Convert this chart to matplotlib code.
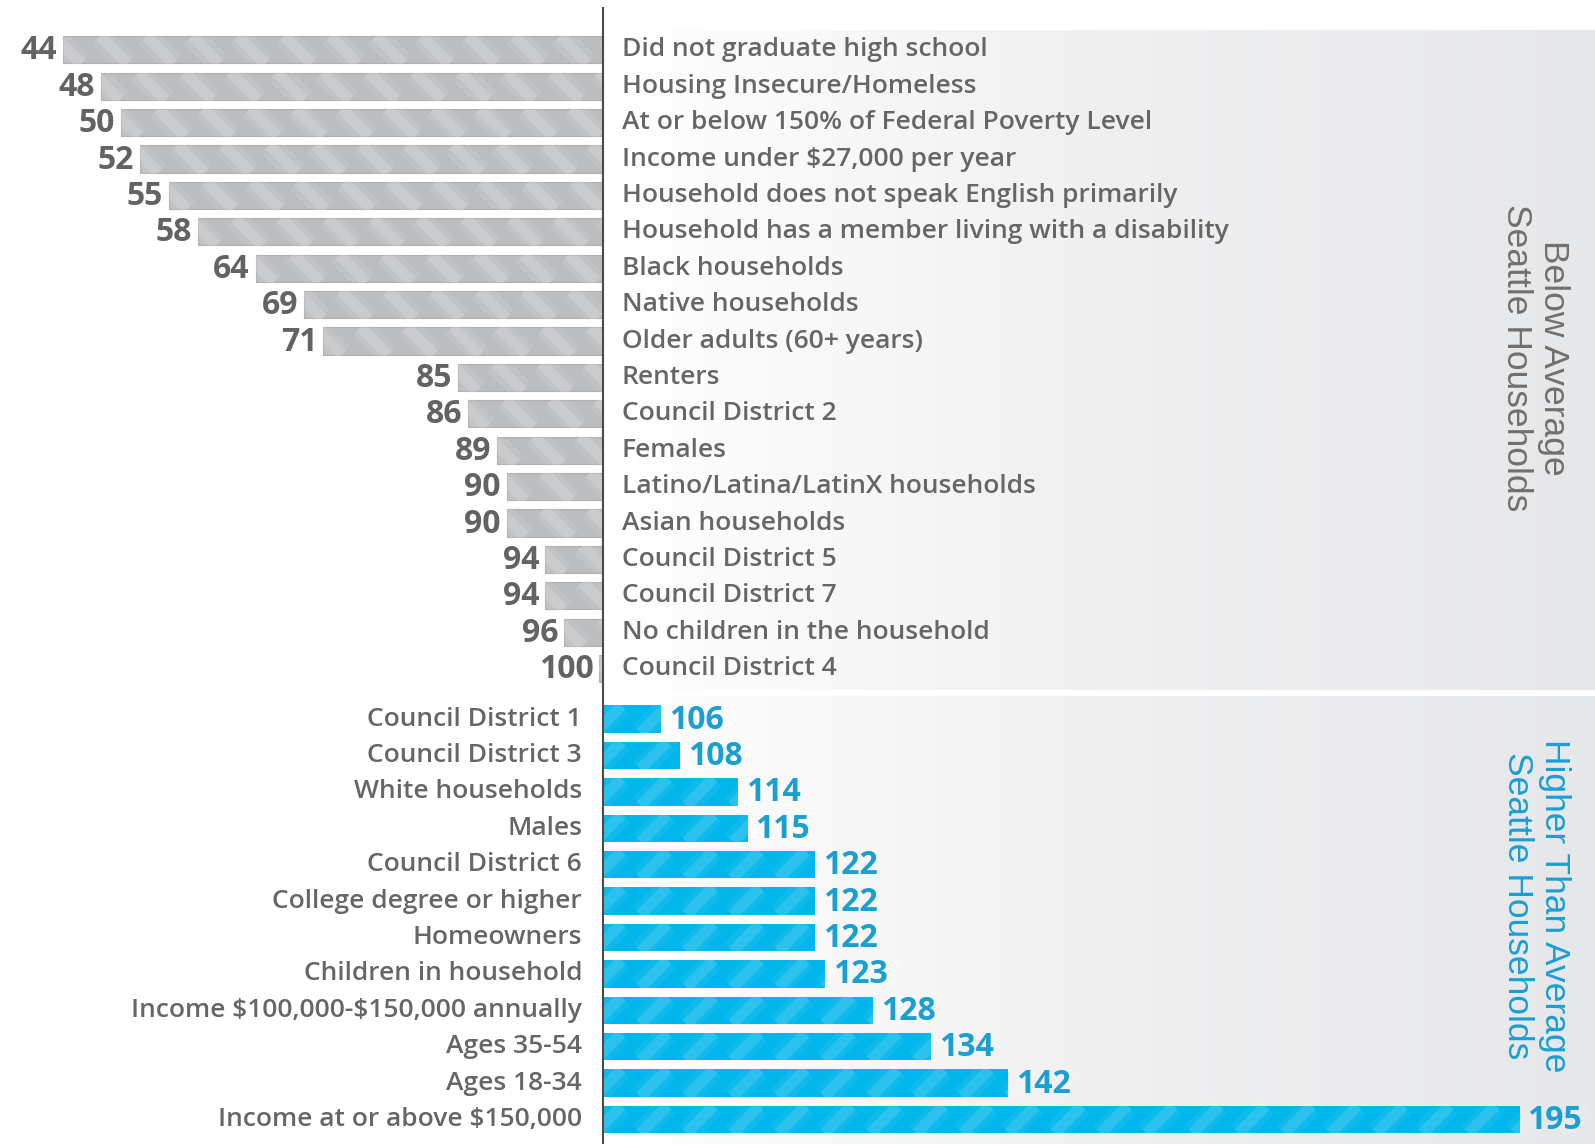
import matplotlib
matplotlib.use("Agg")
import matplotlib.pyplot as plt
import numpy as np
from matplotlib.collections import LineCollection
from matplotlib.colors import LinearSegmentedColormap

plt.rcParams["font.family"] = ["Open Sans", "DejaVu Sans"]

below_labels = [
    "Did not graduate high school",
    "Housing Insecure/Homeless",
    "At or below 150% of Federal Poverty Level",
    "Income under \\$27,000 per year",
    "Household does not speak English primarily",
    "Household has a member living with a disability",
    "Black households",
    "Native households",
    "Older adults (60+ years)",
    "Renters",
    "Council District 2",
    "Females",
    "Latino/Latina/LatinX households",
    "Asian households",
    "Council District 5",
    "Council District 7",
    "No children in the household",
    "Council District 4",
]
below_values = [44, 48, 50, 52, 55, 58, 64, 69, 71, 85, 86, 89, 90, 90, 94, 94, 96, 100]

above_labels = [
    "Council District 1",
    "Council District 3",
    "White households",
    "Males",
    "Council District 6",
    "College degree or higher",
    "Homeowners",
    "Children in household",
    "Income \\$100,000-\\$150,000 annually",
    "Ages 35-54",
    "Ages 18-34",
    "Income at or above \\$150,000",
]
above_values = [106, 108, 114, 115, 122, 122, 122, 123, 128, 134, 142, 195]

BASE = 100
GRAY_BAR = "#bcbdbf"
GRAY_TXT = "#636363"
LABEL_TXT = "#666666"
BLUE_BAR = "#00b6ea"
BLUE_TXT = "#1a9fd2"

W, H = 1595, 1144
fig = plt.figure(figsize=(W / 100, H / 100), dpi=100)
ax = fig.add_axes([0, 0, 1, 1])

# pixel <-> data helpers (x: value units, y: row units)
PX_PER_UNIT = 9.65
X0_PX = 603
ROW0_PX, ROW_PX = 49.8, 36.4
xmin = BASE - X0_PX / PX_PER_UNIT
xmax = BASE + (W - X0_PX) / PX_PER_UNIT
ax.set_xlim(xmin, xmax)
ax.set_ylim((H - ROW0_PX) / ROW_PX, (0 - ROW0_PX) / ROW_PX)
ax.axis("off")


def row(px):
    return (px - ROW0_PX) / ROW_PX


def xval(px):
    return BASE + (px - X0_PX) / PX_PER_UNIT


# background panels with a soft left-to-right gradient
cmap = LinearSegmentedColormap.from_list("panel", ["#ffffff", "#f0f0f1", "#e6e7e9"])
grad = np.linspace(0, 1, 256).reshape(1, -1)
ax.imshow(grad, cmap=cmap, aspect="auto", extent=(BASE, xmax, row(690), row(30)), zorder=0)
ax.imshow(grad, cmap=cmap, aspect="auto", extent=(BASE, xmax, row(H), row(696)), zorder=0)

gap = 50.5 / ROW_PX - 1
y_below = np.arange(len(below_values))
y_above = len(below_values) + gap + np.arange(len(above_values))
bar_h = 0.75


def add_stripes(patch, x0, x1, yc, direction, alpha):
    hp = bar_h * ROW_PX
    dx = hp / PX_PER_UNIT
    period = 46 / PX_PER_UNIT
    segs = []
    for s in np.arange(x0 - 2 * dx, x1 + 2 * dx, period):
        if direction == "/":
            segs.append([(s, yc + bar_h / 2), (s + dx, yc - bar_h / 2)])
        else:
            segs.append([(s + dx, yc + bar_h / 2), (s, yc - bar_h / 2)])
    for lw, a in [(16, alpha * 0.5), (8, alpha)]:
        lc = LineCollection(segs, colors="white", linewidths=lw, alpha=a, zorder=3)
        lc.set_clip_path(patch)
        ax.add_collection(lc)


# below-average bars (extend left from 100)
widths_below = [max(BASE - v, 0.4) for v in below_values]
bars = ax.barh(y_below, [-w for w in widths_below], left=BASE, height=bar_h,
               color=GRAY_BAR, edgecolor="#aeafb1", linewidth=0.8, zorder=2)
for b, v, w, y, lab in zip(bars, below_values, widths_below, y_below, below_labels):
    add_stripes(b, BASE - w, BASE, y, "\\", 0.16)
    ax.text(BASE - w - 0.6, y + 0.03, str(v), ha="right", va="center", fontsize=23,
            fontweight="bold", color=GRAY_TXT, zorder=4)
    ax.text(xval(622), y, lab, ha="left", va="center", fontsize=19,
            fontweight="semibold", color=LABEL_TXT, zorder=4)

# above-average bars (extend right from 100)
bars = ax.barh(y_above, [v - BASE for v in above_values], left=BASE, height=bar_h,
               color=BLUE_BAR, edgecolor="none", zorder=2)
for b, v, y, lab in zip(bars, above_values, y_above, above_labels):
    add_stripes(b, BASE, v, y, "/", 0.12)
    ax.text(v + 0.8, y + 0.03, str(v), ha="left", va="center", fontsize=23,
            fontweight="bold", color=BLUE_TXT, zorder=4)
    ax.text(xval(582), y, lab, ha="right", va="center", fontsize=19,
            fontweight="semibold", color=LABEL_TXT, zorder=4)

# baseline at 100
ax.plot([BASE, BASE], [row(7), row(H)], color="#4a4a4a", lw=1.5, zorder=5,
        solid_capstyle="butt")

# side captions
ax.text(xval(1535), row(358), "Below Average\nSeattle Households",
        rotation=-90, ha="center", va="center", fontsize=25.5, color="#707070",
        family=["Liberation Sans", "DejaVu Sans"], linespacing=1.12, zorder=4)
ax.text(xval(1536), row(906), "Higher Than Average\nSeattle Households",
        rotation=-90, ha="center", va="center", fontsize=25.5, color=BLUE_TXT,
        family=["Liberation Sans", "DejaVu Sans"], linespacing=1.12, zorder=4)

fig.savefig("out.png", dpi=100, facecolor="white")
